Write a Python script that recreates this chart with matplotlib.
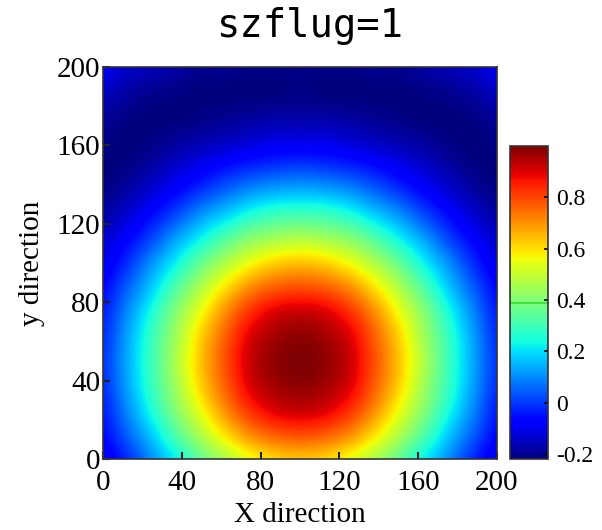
import numpy as np
import matplotlib
matplotlib.use("Agg")
import matplotlib.pyplot as plt

# grid coordinates (data units) where the field values were read
x_grid = [0, 12.5, 25, 37.5, 50, 62.5, 75, 87.5, 100, 112.5, 125, 137.5, 150, 162.5, 175, 187.5, 200]
y_grid = [0, 12.5, 25, 37.5, 50, 62.5, 75, 87.5, 100, 112.5, 125, 137.5, 150, 162.5, 175, 187.5, 200]

# field values; one list per y row (bottom to top), columns follow x_grid
row_y0000 = [-0.10, -0.01, 0.11, 0.23, 0.36, 0.47, 0.56, 0.62, 0.64, 0.62, 0.56, 0.47, 0.36, 0.23, 0.11, -0.01, -0.10]
row_y0125 = [-0.06, 0.05, 0.18, 0.33, 0.47, 0.60, 0.71, 0.77, 0.79, 0.77, 0.71, 0.60, 0.47, 0.33, 0.18, 0.05, -0.06]
row_y0250 = [-0.03, 0.10, 0.25, 0.41, 0.56, 0.71, 0.83, 0.90, 0.92, 0.90, 0.83, 0.71, 0.56, 0.41, 0.25, 0.10, -0.03]
row_y0375 = [-0.01, 0.13, 0.29, 0.45, 0.62, 0.77, 0.90, 0.96, 0.98, 0.96, 0.90, 0.77, 0.62, 0.45, 0.29, 0.13, -0.01]
row_y0500 = [0.00, 0.14, 0.30, 0.47, 0.64, 0.79, 0.92, 0.98, 1.00, 0.98, 0.92, 0.79, 0.64, 0.47, 0.30, 0.14, 0.00]
row_y0625 = [-0.01, 0.13, 0.29, 0.45, 0.62, 0.77, 0.90, 0.96, 0.98, 0.96, 0.90, 0.77, 0.62, 0.45, 0.29, 0.13, -0.01]
row_y0750 = [-0.03, 0.10, 0.25, 0.41, 0.56, 0.71, 0.83, 0.90, 0.92, 0.90, 0.83, 0.71, 0.56, 0.41, 0.25, 0.10, -0.03]
row_y0875 = [-0.06, 0.05, 0.18, 0.33, 0.47, 0.60, 0.71, 0.77, 0.79, 0.77, 0.71, 0.60, 0.47, 0.33, 0.18, 0.05, -0.06]
row_y1000 = [-0.10, -0.01, 0.11, 0.23, 0.36, 0.47, 0.56, 0.62, 0.64, 0.62, 0.56, 0.47, 0.36, 0.23, 0.11, -0.01, -0.10]
row_y1125 = [-0.14, -0.07, 0.02, 0.13, 0.23, 0.33, 0.41, 0.45, 0.47, 0.45, 0.41, 0.33, 0.23, 0.13, 0.02, -0.07, -0.14]
row_y1250 = [-0.18, -0.13, -0.06, 0.02, 0.11, 0.18, 0.25, 0.29, 0.30, 0.29, 0.25, 0.18, 0.11, 0.02, -0.06, -0.13, -0.18]
row_y1375 = [-0.21, -0.18, -0.13, -0.07, -0.01, 0.05, 0.10, 0.13, 0.14, 0.13, 0.10, 0.05, -0.01, -0.07, -0.13, -0.18, -0.21]
row_y1500 = [-0.22, -0.21, -0.18, -0.14, -0.10, -0.06, -0.03, -0.01, 0.00, -0.01, -0.03, -0.06, -0.10, -0.14, -0.18, -0.21, -0.22]
row_y1625 = [-0.21, -0.22, -0.21, -0.19, -0.17, -0.15, -0.13, -0.11, -0.11, -0.11, -0.13, -0.15, -0.17, -0.19, -0.21, -0.22, -0.21]
row_y1750 = [-0.19, -0.21, -0.22, -0.22, -0.21, -0.20, -0.19, -0.18, -0.18, -0.18, -0.19, -0.20, -0.21, -0.22, -0.22, -0.21, -0.19]
row_y1875 = [-0.15, -0.18, -0.20, -0.21, -0.22, -0.22, -0.22, -0.22, -0.21, -0.22, -0.22, -0.22, -0.22, -0.21, -0.20, -0.18, -0.15]
row_y2000 = [-0.10, -0.14, -0.16, -0.18, -0.20, -0.20, -0.21, -0.21, -0.21, -0.21, -0.21, -0.20, -0.20, -0.18, -0.16, -0.14, -0.10]

x_ticks = [0, 40, 80, 120, 160, 200]
y_ticks = [0, 40, 80, 120, 160, 200]
cbar_ticks = [-0.2, 0, 0.2, 0.4, 0.6, 0.8]
cbar_ticklabels = ["-0.2", "0", "0.2", "0.4", "0.6", "0.8"]
cbar_line_level = 0.39
title_text = "szflug=1"
xlabel_text = "X direction"
ylabel_text = "y direction"

field = np.array([row_y0000, row_y0125, row_y0250, row_y0375, row_y0500,
                  row_y0625, row_y0750, row_y0875, row_y1000, row_y1125,
                  row_y1250, row_y1375, row_y1500, row_y1625, row_y1750,
                  row_y1875, row_y2000])

fig = plt.figure(figsize=(6.02, 5.30), dpi=100)
ax = fig.add_axes([103/602, 71/530, 394/602, 392/530])
cax = fig.add_axes([510/602, 71/530, 38/602, 313/530])

dx = x_grid[1] - x_grid[0]
dy = y_grid[1] - y_grid[0]
im = ax.imshow(field, origin="lower", cmap="jet", interpolation="catrom",
               extent=(x_grid[0] - dx/2, x_grid[-1] + dx/2,
                       y_grid[0] - dy/2, y_grid[-1] + dy/2),
               vmin=-0.22, vmax=1.0, aspect="auto")
ax.set_xlim(0, 200)
ax.set_ylim(0, 200)

serif = ["Liberation Serif", "DejaVu Serif"]
ax.set_xticks(x_ticks)
ax.set_yticks(y_ticks)
ax.set_xticklabels([str(v) for v in x_ticks], fontfamily=serif, fontsize=21)
ax.set_yticklabels([str(v) for v in y_ticks], fontfamily=serif, fontsize=21)
ax.tick_params(axis="both", direction="in", length=5, width=1.5, color="#222222")
ax.tick_params(axis="x", pad=8)
ax.tick_params(axis="y", pad=2)
for s in ax.spines.values():
    s.set_color("#333333")
    s.set_linewidth(1.2)

ax.set_xlabel(xlabel_text, fontfamily=serif, fontsize=21, labelpad=4)
ax.set_ylabel(ylabel_text, fontfamily=serif, fontsize=21, labelpad=8)
fig.text(310/602, 1 - 26/530, title_text, ha="center", va="center",
         fontfamily=["DejaVu Sans Mono"], fontsize=28)

cb = fig.colorbar(im, cax=cax)
cb.set_ticks(cbar_ticks)
cb.set_ticklabels(cbar_ticklabels)
cax.tick_params(direction="in", length=3, width=1.2, pad=6, labelsize=17)
for lbl in cax.get_yticklabels():
    lbl.set_fontfamily(serif)
cb.outline.set_edgecolor("#333333")
cb.outline.set_linewidth(1.2)
cax.axhline(cbar_line_level, color="#33dd33", linewidth=1.2)

fig.savefig("out.png", dpi=100)
